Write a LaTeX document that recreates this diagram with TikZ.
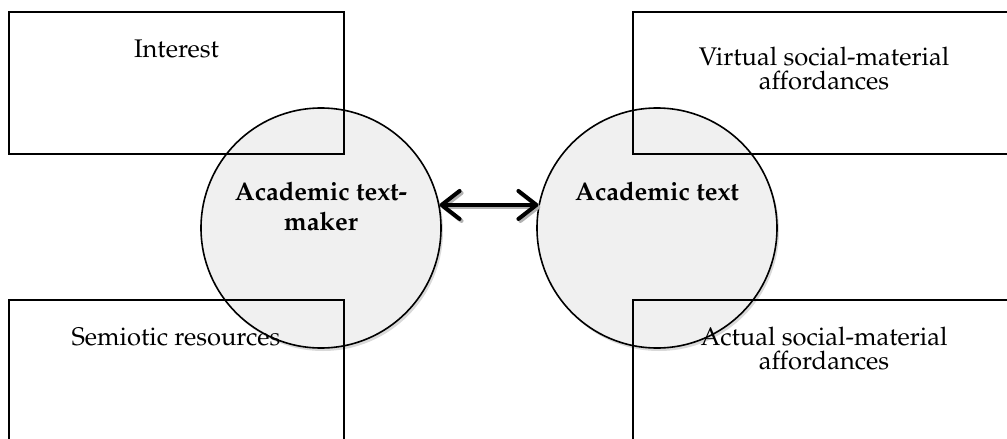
\documentclass[tikz,border=0pt]{standalone}
\usepackage[T1]{fontenc}
\usepackage{mathpazo}
\usetikzlibrary{arrows.meta,shadows}
\definecolor{discgray}{RGB}{240,240,240}

\begin{document}
\begin{tikzpicture}[x=0.5pt,y=-0.5pt,font=\fontsize{12.75}{12}\selectfont,
  frame/.style={draw,line width=1pt,inner sep=0pt,minimum height=71pt},
  disc/.style={circle,draw,line width=0.8pt,fill=discgray,minimum size=120pt,inner sep=0pt,
    drop shadow={shadow xshift=1pt,shadow yshift=-1.5pt,opacity=0.3}},
  lbl/.style={inner sep=0pt,align=center,anchor=base},
  dblarrow/.style={line width=2pt,line cap=round,
    {Straight Barb[length=9pt,width=14pt,line cap=round,line join=round]}-{Straight Barb[length=9pt,width=14pt,line cap=round,line join=round]}}]
\clip (0,0) rectangle (1007,439);
% circles
\node[disc] (maker) at (321,228) {};
\node[disc] (text) at (657,228) {};
\draw[dblarrow,black!30] ([shift={(1pt,-1pt)}]maker.11) -- ([shift={(1pt,-1pt)}]text.169);
\draw[dblarrow] (maker.11) -- (text.169);
% boxes
\foreach \n/\x/\y/\w in {interest/176.5/83/167.5,virtual/824/83/191,semiotic/176/371/167.5,actual/824/371/191}{
  \node[frame,minimum width=\w pt] (\n) at (\x,\y) {};
}
% labels (base = last line)
\node[lbl] (interestlbl) at (176.5,57) {Interest};
\node[lbl] (virtuallbl) at (824,89) {Virtual social-material\\affordances};
\node[lbl] (semioticlbl) at (176,345) {Semiotic resources};
\node[lbl] (actuallbl) at (824,369) {Actual social-material\\affordances};
\node[lbl,font=\fontsize{12.75}{15}\selectfont\bfseries] (makerlbl) at (321,230) {Academic text-\\maker};
\node[lbl,font=\fontsize{12.75}{15}\selectfont\bfseries] (textlbl) at (657,200) {Academic text};
\end{tikzpicture}
\end{document}
